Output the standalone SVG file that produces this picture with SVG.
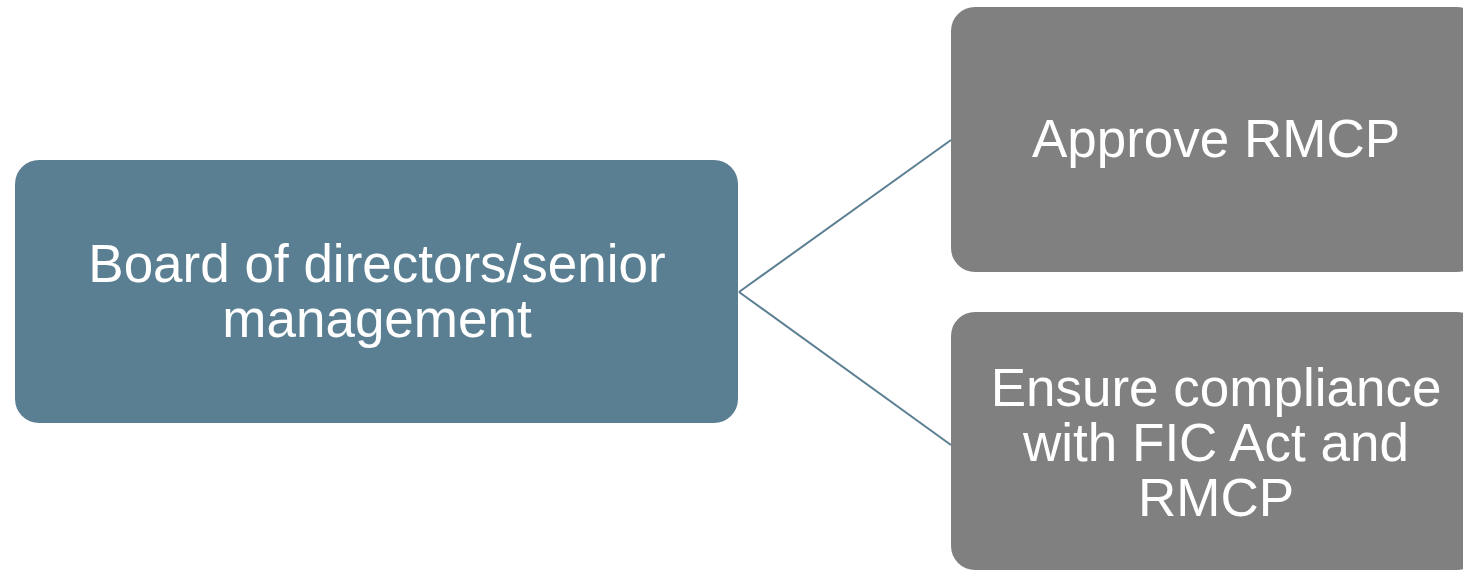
<svg xmlns="http://www.w3.org/2000/svg" width="1463" height="571" viewBox="0 0 1463 571">
<style>
.t{font-family:"Liberation Sans",Arial,sans-serif;font-size:53px;fill:#ffffff;text-anchor:middle}
.c{stroke:#5b7f92;stroke-width:2;fill:none}
</style>
<rect width="1463" height="571" fill="#ffffff"/>
<g id="connectors">
<path class="c" d="M739,292 L951,140"/>
<path class="c" d="M739,292 L951,445"/>
</g>
<g id="board">
<rect x="15" y="160" width="723" height="263" rx="24" fill="#5b7f92"/>
<text class="t" x="377" y="282">Board of directors/senior</text>
<text class="t" x="377" y="337">management</text>
</g>
<g id="approve">
<rect x="951" y="7" width="530" height="265" rx="24" fill="#808080"/>
<text class="t" x="1216" y="157">Approve RMCP</text>
</g>
<g id="ensure">
<rect x="951" y="312" width="530" height="258" rx="24" fill="#808080"/>
<text class="t" x="1216" y="406">Ensure compliance</text>
<text class="t" x="1216" y="461">with FIC Act and</text>
<text class="t" x="1216" y="516">RMCP</text>
</g>
</svg>
